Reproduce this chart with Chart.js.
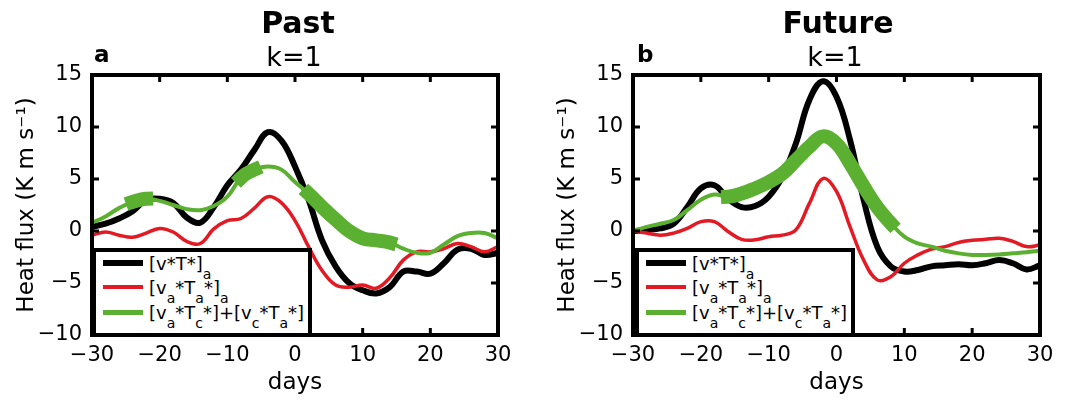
<!DOCTYPE html>
<html>
<head>
<meta charset="utf-8">
<script src="https://cdn.jsdelivr.net/npm/chart.js@4.4.1/dist/chart.umd.min.js"></script>
<style>
body { margin: 0; background: #fff; font-family: "DejaVu Sans", sans-serif; }
#wrap { position: relative; width: 1066px; height: 403px; overflow: hidden; }
canvas { position: absolute; top: 0; }
.t { position: absolute; white-space: nowrap; line-height: 1; color: #000; }
.c { transform: translateX(-50%); }
.leg { position: absolute; box-sizing: border-box; border: 4px solid #000; background: #fff; }
.sw { position: absolute; left: 7px; width: 40px; }
.lt { position: absolute; left: 53px; font-size: 18px; line-height: 1; white-space: nowrap; }
.lt sub { font-size: 14px; vertical-align: -9px; line-height: 0; }
</style>
</head>
<body>
<div id="wrap">
  <canvas id="chartA" width="533" height="403" style="left:0"></canvas>
  <canvas id="chartB" width="533" height="403" style="left:533px"></canvas>

  <div class="t c" style="left:298px;top:8px;font-size:30px;font-weight:bold">Past</div>
  <div class="t c" style="left:294px;top:43px;font-size:27px">k=1</div>
  <div class="t" style="left:94px;top:43px;font-size:23px;font-weight:bold">a</div>

  <div class="t c" style="left:838px;top:8px;font-size:30px;font-weight:bold">Future</div>
  <div class="t c" style="left:835px;top:43px;font-size:27px">k=1</div>
  <div class="t" style="left:637px;top:43px;font-size:23px;font-weight:bold">b</div>

  <div class="leg" style="left:92px;top:248px;width:220px;height:89px">
    <div class="sw" style="top:8px;height:6px;background:#000"></div>
    <div class="lt" style="top:3px">[v*T*]<sub>a</sub></div>
    <div class="sw" style="top:33px;height:4px;background:#e31a23"></div>
    <div class="lt" style="top:27px">[v<sub>a</sub>*T<sub>a</sub>*]<sub>a</sub></div>
    <div class="sw" style="top:58px;height:5px;background:#5bb031"></div>
    <div class="lt" style="top:52px">[v<sub>a</sub>*T<sub>c</sub>*]+[v<sub>c</sub>*T<sub>a</sub>*]</div>
  </div>

  <div class="leg" style="left:635px;top:248px;width:220px;height:89px">
    <div class="sw" style="top:8px;height:6px;background:#000"></div>
    <div class="lt" style="top:3px">[v*T*]<sub>a</sub></div>
    <div class="sw" style="top:33px;height:4px;background:#e31a23"></div>
    <div class="lt" style="top:27px">[v<sub>a</sub>*T<sub>a</sub>*]<sub>a</sub></div>
    <div class="sw" style="top:58px;height:5px;background:#5bb031"></div>
    <div class="lt" style="top:52px">[v<sub>a</sub>*T<sub>c</sub>*]+[v<sub>c</sub>*T<sub>a</sub>*]</div>
  </div>
</div>

<script>
// lag in days, every 2 days
const days = [-30,-28,-26,-24,-22,-20,-18,-16,-14,-12,-10,-8,-6,-4,-2,0,2,4,6,8,10,12,14,16,18,20,22,24,26,28,30];

// Past
const pastTotal = [0.4,0.7,1.2,1.9,3.0,3.1,2.7,1.3,0.8,2.3,4.4,5.9,7.8,9.5,8.7,6.2,3.0,-0.9,-3.4,-5.0,-5.7,-6.0,-5.4,-3.9,-3.9,-4.1,-3.1,-1.8,-1.7,-2.3,-2.1];
const pastAnom  = [-0.4,-0.1,-0.4,-0.6,-0.2,0.25,-0.1,-1.0,-1.2,0.2,1.0,1.2,2.2,3.3,2.7,1.0,-1.5,-3.8,-5.2,-5.4,-5.2,-5.5,-4.5,-2.8,-2.0,-2.0,-1.7,-1.2,-1.5,-2.0,-1.5];
const pastCross = [0.8,1.4,2.2,2.8,3.1,2.9,2.5,2.1,2.0,2.4,3.3,5.1,5.9,6.2,5.9,4.7,3.6,2.3,1.1,0.0,-0.7,-0.9,-1.1,-1.7,-2.1,-2.1,-1.3,-0.5,-0.2,-0.2,-0.7];
const pastSig = [[-24,-22],[-8,-6],[2,14]];

// Future
const futTotal = [0,0.1,0.25,0.7,2.3,4.1,4.4,3.1,2.3,2.4,3.3,5.2,8.4,12.6,14.4,12.9,8.75,3.0,-1.5,-3.4,-3.9,-3.75,-3.4,-3.3,-3.2,-3.3,-3.1,-2.8,-3.1,-3.7,-3.3];
const futAnom  = [0,-0.2,-0.4,-0.2,0.25,0.9,0.9,-0.05,-0.8,-0.85,-0.55,-0.4,0.1,2.65,5.05,3.8,0.4,-2.8,-4.7,-4.4,-3.1,-2.3,-1.75,-1.5,-1.1,-0.9,-0.8,-0.7,-1.0,-1.5,-1.35];
const futCross = [0,0.4,0.7,1.05,2.0,3.0,3.5,3.3,3.6,4.1,4.7,5.5,6.8,8.1,9.1,8.4,6.5,4.3,2.3,0.75,-0.55,-1.2,-1.5,-1.9,-2.15,-2.3,-2.3,-2.25,-2.15,-2.05,-1.9];
const futSig = [[-16,8]];

const xTicks = [-30,-20,-10,0,10,20,30];
const yTicks = [-10,-5,0,5,10,15];

const BLACK = '#000000', RED = '#e31a23', GREEN = '#5bb031';

function pts(vals) {
  return days.map((d, i) => ({ x: d, y: vals[i] }));
}

function inSig(sig, a, b) {
  return sig.some(w => a >= w[0] && b <= w[1]);
}

const framePlugin = {
  id: 'frame',
  afterDatasetsDraw(chart) {
    const { ctx, chartArea: a, scales: { x, y } } = chart;
    ctx.save();
    ctx.strokeStyle = '#000';
    ctx.lineWidth = 3;
    ctx.beginPath();
    xTicks.forEach(v => {
      const px = x.getPixelForValue(v);
      ctx.moveTo(px, a.top); ctx.lineTo(px, a.top + 7);
      ctx.moveTo(px, a.bottom); ctx.lineTo(px, a.bottom - 7);
    });
    yTicks.forEach(v => {
      const py = y.getPixelForValue(v);
      ctx.moveTo(a.left, py); ctx.lineTo(a.left + 7, py);
      ctx.moveTo(a.right, py); ctx.lineTo(a.right - 7, py);
    });
    ctx.stroke();
    ctx.lineWidth = 4;
    ctx.strokeRect(a.left, a.top, a.right - a.left, a.bottom - a.top);
    ctx.restore();
  }
};

function makeChart(id, total, anom, cross, sig, yAxisWidth, yTitlePad) {
  const tickFont = { family: 'DejaVu Sans', size: 21 };
  const titleFont = { family: 'DejaVu Sans', size: 23 };
  return new Chart(document.getElementById(id), {
    type: 'line',
    data: {
      datasets: [
        {
          data: pts(cross),
          borderColor: GREEN,
          borderWidth: 4,
          order: 0,
          segment: {
            borderWidth: c => inSig(sig, c.p0.parsed.x, c.p1.parsed.x) ? 14 : 4,
            borderCapStyle: c => inSig(sig, c.p0.parsed.x, c.p1.parsed.x) ? 'square' : 'butt',
          },
        },
        { data: pts(anom), borderColor: RED, borderWidth: 3.5, order: 1 },
        { data: pts(total), borderColor: BLACK, borderWidth: 6, order: 2 },
      ],
    },
    options: {
      responsive: false,
      animation: false,
      layout: { padding: { top: 75, right: id === 'chartA' ? 35 : 26, left: 0, bottom: 0 } },
      elements: {
        point: { radius: 0 },
        line: { tension: 0.4, fill: false, borderJoinStyle: 'round' },
      },
      plugins: { legend: { display: false }, tooltip: { enabled: false } },
      scales: {
        x: {
          type: 'linear',
          min: -30,
          max: 30,
          afterFit: s => { s.height = 68; },
          afterBuildTicks: s => { s.ticks = xTicks.map(v => ({ value: v })); },
          grid: { display: false, drawTicks: false },
          border: { display: false },
          ticks: {
            font: tickFont,
            color: '#000',
            padding: 8,
            maxRotation: 0,
            callback: v => String(v).replace('-', '\u2212'),
          },
          title: { display: true, text: 'days', font: titleFont, color: '#000', padding: { bottom: 6 } },
        },
        y: {
          min: -10,
          max: 15,
          afterFit: s => { s.width = yAxisWidth; },
          afterBuildTicks: s => { s.ticks = yTicks.map(v => ({ value: v })); },
          grid: { display: false, drawTicks: false },
          border: { display: false },
          ticks: {
            font: tickFont,
            color: '#000',
            padding: 10,
            callback: v => String(v).replace('-', '\u2212'),
          },
          title: {
            display: true,
            text: 'Heat flux (K m s\u207B\u00B9)',
            font: titleFont,
            color: '#000',
            padding: { top: yTitlePad },
          },
        },
      },
    },
    plugins: [framePlugin],
  });
}

makeChart('chartA', pastTotal, pastAnom, pastCross, pastSig, 92, 13);
makeChart('chartB', futTotal, futAnom, futCross, futSig, 100, 21);
</script>
</body>
</html>
